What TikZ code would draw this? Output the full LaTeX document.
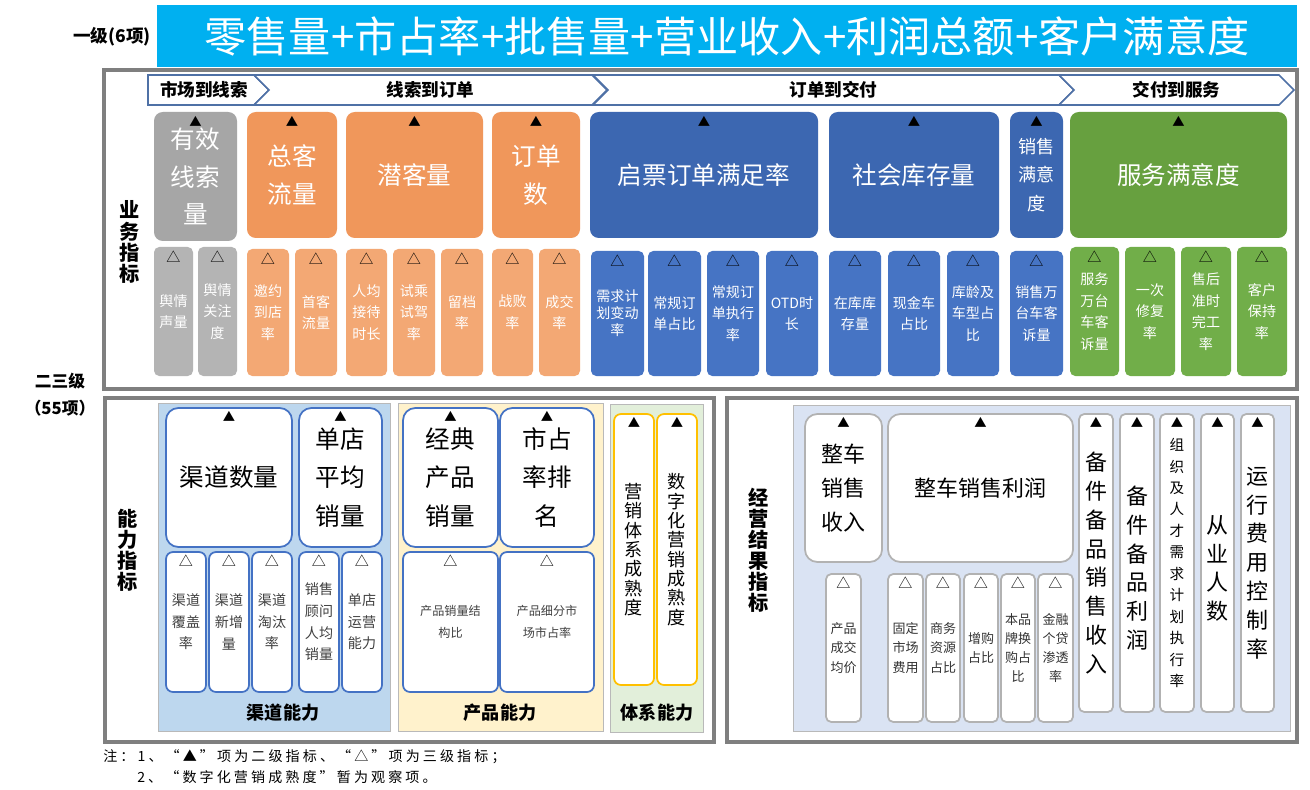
\documentclass[tikz,border=0pt]{standalone}
\usepackage{xcolor}
\usepackage{fontspec}
\usepackage{tikz}
\usetikzlibrary{positioning}

\setmainfont{Noto Sans CJK SC}
\newfontfamily\notefont{Noto Sans CJK SC}[LetterSpace=22]

\definecolor{titleblue}{HTML}{00B0F0}
\definecolor{framegray}{HTML}{7F7F7F}
\definecolor{chevblue}{HTML}{4F71A6}
\definecolor{leadgray}{HTML}{A6A6A6}
\definecolor{leadgraylt}{HTML}{B4B4B4}
\definecolor{custorange}{HTML}{F0975B}
\definecolor{custorangelt}{HTML}{F3A874}
\definecolor{orderblue}{HTML}{3C67B1}
\definecolor{orderbluelt}{HTML}{4674C4}
\definecolor{servgreen}{HTML}{67A03F}
\definecolor{servgreenlt}{HTML}{71AE49}
\definecolor{chanfill}{HTML}{BDD7EE}
\definecolor{prodfill}{HTML}{FFF2CC}
\definecolor{sysfill}{HTML}{E2EFDA}
\definecolor{resfill}{HTML}{DAE3F3}
\definecolor{boxblue}{HTML}{4472C4}
\definecolor{boxgold}{HTML}{FFC000}

\newcommand{\fsz}[2]{\fontsize{#1}{#2}\selectfont}

\begin{document}
\begin{tikzpicture}[x=0.02cm, y=-0.02cm]

    % Style for nodes
    \tikzset{
        spanbox/.style n args={4}{minimum width={(#3-#1)*0.02cm}, minimum height={(#4-#2)*0.02cm}, at={({(#1+#3)/2},{(#2+#4)/2})}},
        frameline/.style={draw=framegray, line width=2.2pt},
        panelfill/.style={draw=gray!55, line width=0.5pt},
        chevline/.style={draw=chevblue, fill=white, line width=0.9pt, line join=miter},
        chevtext/.style={font=\fsz{10}{10}\bfseries, text=black, inner sep=0pt},
        sidelabel/.style={font=\fsz{11.5}{12}\bfseries, align=center, inner sep=0pt},
        paneltitle/.style={font=\fsz{10.3}{11}\bfseries, inner sep=0pt},
        majnode/.style={rectangle, rounded corners=5pt, text=white, align=center, inner sep=0pt, font=\fsz{14}{21.5}},
        minnode/.style={rectangle, rounded corners=3pt, text=white, align=center, inner sep=0pt, font=\fsz{8}{12.3}},
        whitemaj/.style={rectangle, rounded corners=7pt, draw=boxblue, line width=1pt, fill=white, align=center, inner sep=0pt, font=\fsz{14}{22}},
        whitemin/.style={rectangle, rounded corners=4pt, draw=boxblue, line width=1pt, fill=white, text=black!75, align=center, inner sep=0pt, font=\fsz{8}{12.3}},
        sysnode/.style={rectangle, rounded corners=4pt, draw=boxgold, line width=1pt, fill=white, align=center, inner sep=0pt, font=\fsz{10.3}{11}},
        resmaj/.style={rectangle, rounded corners=7pt, draw=gray!60, line width=1pt, fill=white, align=center, inner sep=0pt, font=\fsz{12.5}{19.3}},
        rescol/.style={rectangle, rounded corners=3pt, draw=gray!60, line width=1pt, fill=white, align=center, inner sep=0pt, font=\fsz{12.5}{16.4}},
        resmin/.style={rectangle, rounded corners=3pt, draw=gray!60, line width=1pt, fill=white, text=black!80, align=center, inner sep=0pt, font=\fsz{7.4}{11}},
        solidtri/.style={label={[anchor=north, inner sep=0pt, yshift=-2.2pt, text=black, font=\fsz{7}{7}]north:▲}},
        opentri/.style={label={[anchor=north, inner sep=0pt, yshift=-2.2pt, text=black, font=\fsz{8}{8}]north:△}}
    }

    \fill[white] (0,0) rectangle (1310,790);
    \useasboundingbox (0,0) rectangle (1310,790);

    % --- LEVEL ONE ---
    \node[font=\fsz{10}{10}\bfseries, inner sep=0pt] (lvl1) at (112,37) {一级(6项)};
    \node[fill=titleblue, text=white, inner sep=0pt, font=\fsz{24}{25}, spanbox={157}{5}{1297}{67}] (title) {零售量+市占率+批售量+营业收入+利润总额+客户满意度};

    % --- LEVEL TWO / THREE ---
    \node[font=\fsz{9.5}{10}\bfseries, inner sep=0pt] (lvl23) at (60,381) {二三级};
    \node[font=\fsz{9.5}{10}\bfseries, inner sep=0pt, below=6pt of lvl23] (lvl23n) {（55项）};

    % === 业务指标 ===
    \draw[frameline] (104,70) rectangle (1297,389);
    \node[sidelabel] (bizlbl) at (130,242) {业\\务\\指\\标};

    % chevrons
    \draw[chevline] (148,75) -- (254,75) -- (269,90) -- (254,105) -- (148,105) -- cycle;
    \node[chevtext] (ch1) at (204,90) {市场到线索};
    \foreach \xa/\xb/\txt/\nm in {254/607/线索到订单/ch2, 593/1074/订单到交付/ch3, 1059/1294/交付到服务/ch4} {
        \draw[chevline] (\xa,75) -- (\xb-15,75) -- (\xb,90) -- (\xb-15,105) -- (\xa,105) -- (\xa+15,90) -- cycle;
        \node[chevtext] (\nm) at ({(\xa+\xb)/2},90) {\txt};
    }

    % second level
    \node[majnode, solidtri, fill=leadgray, spanbox={154}{112}{237}{241}] (lead) {有效\\线索\\量};
    \node[majnode, solidtri, fill=custorange, spanbox={247}{112}{337}{238}] (flow) {总客\\流量};
    \node[majnode, solidtri, fill=custorange, spanbox={346}{112}{483}{238}] (pros) {潜客量};
    \node[majnode, solidtri, fill=custorange, spanbox={492}{112}{580}{238}] (ordr) {订单\\数};
    \node[majnode, solidtri, fill=orderblue, spanbox={590}{112}{818}{238}] (fulfil) {启票订单满足率};
    \node[majnode, solidtri, fill=orderblue, spanbox={829}{112}{999}{238}] (stock) {社会库存量};
    \node[majnode, solidtri, fill=orderblue, font=\fsz{10.3}{16}, spanbox={1010}{112}{1063}{238}] (salesat) {销售\\满意\\度};
    \node[majnode, solidtri, fill=servgreen, spanbox={1070}{112}{1287}{238}] (servsat) {服务满意度};

    % third level
    \foreach \xa/\xb/\txt [count=\i] in {154/193/{舆情\\声量}, 198/237/{舆情\\关注\\度}} {
        \node[minnode, opentri, fill=leadgraylt, spanbox={\xa}{247}{\xb}{376}] (g\i) {\txt};
    }
    \foreach \xa/\xb/\txt [count=\i] in {247/289/{邀约\\到店\\率}, 295/337/{首客\\流量}, 346/387/{人均\\接待\\时长}, 393/435/{试乘\\试驾\\率}, 441/483/{留档\\率}, 492/533/{战败\\率}, 539/580/{成交\\率}} {
        \node[minnode, opentri, fill=custorangelt, spanbox={\xa}{249}{\xb}{376}] (o\i) {\txt};
    }
    \node[minnode, opentri, fill=orderbluelt, font=\fsz{8}{9.6}, spanbox={591}{251}{644}{376}] (b1) {需求计\\划变动\\率};
    \foreach \xa/\xb/\txt [count=\i from 2] in {648/701/{常规订\\单占比}, 707/759/{常规订\\单执行\\率}, 766/818/{OTD时\\长}, 829/881/{在库库\\存量}, 888/940/{现金车\\占比}, 947/999/{库龄及\\车型占\\比}, 1010/1063/{销售万\\台车客\\诉量}} {
        \node[minnode, opentri, fill=orderbluelt, spanbox={\xa}{251}{\xb}{376}] (b\i) {\txt};
    }
    \foreach \xa/\xb/\txt [count=\i] in {1070/1119/{服务\\万台\\车客\\诉量}, 1125/1175/{一次\\修复\\率}, 1181/1231/{售后\\准时\\完工\\率}, 1237/1287/{客户\\保持\\率}} {
        \node[minnode, opentri, fill=servgreenlt, spanbox={\xa}{247}{\xb}{376}] (s\i) {\txt};
    }

    % === 能力指标 ===
    \draw[frameline] (105,398) rectangle (714,742);
    \node[sidelabel] (caplbl) at (128,550) {能\\力\\指\\标};

    % channel
    \filldraw[panelfill, fill=chanfill] (158,403) rectangle (390,731);
    \node[whitemaj, solidtri, spanbox={166}{408}{292}{547}] (chnum) {渠道数量};
    \node[whitemaj, solidtri, spanbox={299}{408}{382}{547}] (shopavg) {单店\\平均\\销量};
    \foreach \xa/\xb/\txt [count=\i] in {166/206/{渠道\\覆盖\\率}, 209/249/{渠道\\新增\\量}, 252/292/{渠道\\淘汰\\率}, 299/339/{销售\\顾问\\人均\\销量}, 342/382/{单店\\运营\\能力}} {
        \node[whitemin, opentri, spanbox={\xa}{552}{\xb}{692}] (c\i) {\txt};
    }
    \node[paneltitle] (chanlbl) at (283,713) {渠道能力};

    % product
    \filldraw[panelfill, fill=prodfill] (398,403) rectangle (603,731);
    \node[whitemaj, solidtri, spanbox={403}{408}{498}{547}] (classic) {经典\\产品\\销量};
    \node[whitemaj, solidtri, spanbox={500}{408}{594}{547}] (mshare) {市占\\率排\\名};
    \node[whitemin, opentri, font=\fsz{6.9}{12.3}, spanbox={403}{552}{498}{692}] (p1) {产品销量结\\构比};
    \node[whitemin, opentri, font=\fsz{6.9}{12.3}, spanbox={500}{552}{594}{692}] (p2) {产品细分市\\场市占率};
    \node[paneltitle] (prodlbl) at (500,713) {产品能力};

    % system
    \filldraw[panelfill, fill=sysfill] (610,404) rectangle (703,732);
    \node[sysnode, solidtri, spanbox={614}{414}{654}{685}] (mktsys) {营\\销\\体\\系\\成\\熟\\度};
    \node[sysnode, solidtri, spanbox={657}{414}{697}{685}] (digmkt) {数\\字\\化\\营\\销\\成\\熟\\度};
    \node[paneltitle] (syslbl) at (657,713) {体系能力};

    % === 经营结果指标 ===
    \draw[frameline] (727,398) rectangle (1297,742);
    \node[sidelabel] (reslbl) at (759,550) {经\\营\\结\\果\\指\\标};
    \filldraw[panelfill, fill=resfill] (793,405) rectangle (1290,731);

    \node[resmaj, solidtri, spanbox={805}{414}{882}{562}] (vrev) {整车\\销售\\收入};
    \node[resmaj, solidtri, spanbox={888}{414}{1073}{562}] (vprof) {整车销售利润};
    \node[rescol, solidtri, spanbox={1079}{414}{1113}{712}] (partrev) {备\\件\\备\\品\\销\\售\\收\\入};
    \node[rescol, solidtri, spanbox={1120}{414}{1154}{712}] (partprof) {\\备\\件\\备\\品\\利\\润};
    \node[rescol, solidtri, font=\fsz{8.3}{12.2}, spanbox={1160}{414}{1194}{712}] (talent) {组\\织\\及\\人\\才\\需\\求\\计\\划\\执\\行\\率};
    \node[rescol, solidtri, spanbox={1201}{414}{1234}{712}] (staff) {\\从\\业\\人\\数};
    \node[rescol, solidtri, spanbox={1241}{414}{1274}{712}] (opex) {运\\行\\费\\用\\控\\制\\率};

    \foreach \xa/\xb/\txt [count=\i] in {826/861/{产品\\成交\\均价}, 888/923/{固定\\市场\\费用}, 926/960/{商务\\资源\\占比}, 964/998/{增购\\占比}, 1001/1035/{本品\\牌换\\购占\\比}, 1038/1073/{金融\\个贷\\渗透\\率}} {
        \node[resmin, opentri, spanbox={\xa}{574}{\xb}{722}] (r\i) {\txt};
    }

    % --- NOTES ---
    \node[font=\notefont\fsz{8}{8}, anchor=west, inner sep=0pt] (note1) at (103,757) {注：1、“▲”项为二级指标、“△”项为三级指标；};
    \node[font=\notefont\fsz{8}{8}, anchor=west, inner sep=0pt] (note2) at (137,777) {2、“数字化营销成熟度”暂为观察项。};

\end{tikzpicture}
\end{document}
